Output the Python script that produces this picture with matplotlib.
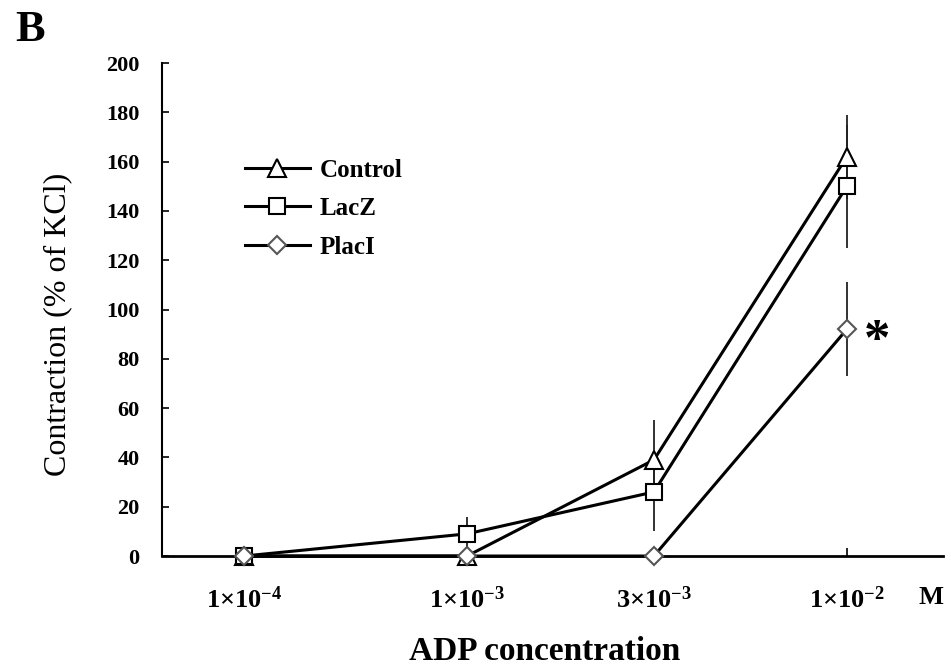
import matplotlib
matplotlib.use("Agg")
import matplotlib.pyplot as plt
from matplotlib.lines import Line2D

categories = ["1×10$^{-4}$", "1×10$^{-3}$", "3×10$^{-3}$", "1×10$^{-2}$"]
control = [0, 0, 39, 162]
control_err = [0, 0, 16, 17]
lacz = [0, 9, 26, 150]
lacz_err = [0, 7, 16, 25]
placi = [0, 0, 0, 92]
placi_err = [0, 0, 0, 19]
yticks = [0, 20, 40, 60, 80, 100, 120, 140, 160, 180, 200]

xpos = [0, 1.11, 2.04, 3]

plt.rcParams['font.family'] = ['Liberation Serif', 'DejaVu Serif']
plt.rcParams['mathtext.fontset'] = 'custom'
plt.rcParams['mathtext.rm'] = 'Liberation Serif:bold'
plt.rcParams['mathtext.it'] = 'Liberation Serif:bold'
plt.rcParams['mathtext.bf'] = 'Liberation Serif:bold'

fig = plt.figure(figsize=(9.51, 6.70), dpi=100)
ax = fig.add_axes([0.1703, 0.1701, 0.8212, 0.7358])

lw = 2.2
series = [
    ("Control", control, control_err, "^", "black", 13),
    ("LacZ", lacz, lacz_err, "s", "black", 12),
    ("PlacI", placi, placi_err, "D", "#555555", 9.5),
]
handles = []
for name, vals, err, mk, ec, ms in series:
    ax.errorbar(xpos, vals, yerr=err, color="black", lw=lw, elinewidth=1.3,
                ecolor="#222222", capsize=0, marker=mk, markersize=ms,
                markerfacecolor="white", markeredgecolor=ec, markeredgewidth=1.5,
                zorder=3, clip_on=False)
    handles.append(Line2D([], [], color="black", lw=lw, marker=mk, markersize=ms,
                          markerfacecolor="white", markeredgecolor=ec,
                          markeredgewidth=1.5, label=name))

ax.set_xlim(-0.408, 3.478)
ax.set_ylim(0, 200)
ax.set_yticks(yticks)
ax.set_yticklabels([str(v) for v in yticks], fontsize=16, fontweight="bold")
ax.set_xticks(xpos)
ax.set_xticklabels(categories, fontsize=19, fontweight="bold")
ax.tick_params(axis="y", direction="in", length=5, width=1.2, pad=16)
ax.tick_params(axis="x", direction="in", length=6, width=1.2, pad=22)
for s in ["top", "right"]:
    ax.spines[s].set_visible(False)
ax.spines["left"].set_linewidth(1.5)
ax.spines["bottom"].set_linewidth(2)

ax.set_ylabel("Contraction (% of KCl)", fontsize=23)
ax.yaxis.set_label_coords(-0.115, 0.469)
ax.set_xlabel("ADP concentration", fontsize=24, fontweight="bold")
ax.xaxis.set_label_coords(0.49, -0.162)

fig.text(931/951, 1 - 597/670, "M", fontsize=19, fontweight="bold", ha="center", va="center")
ax.text(3.15, placi[3] - 5, "*", fontsize=38, fontweight="bold", ha="center", va="center")
fig.text(30/951, 1 - 30/670, "B", fontsize=32, fontweight="bold", ha="center", va="center")

leg = ax.legend(handles=handles, loc="upper left", bbox_to_anchor=(0.077, 0.852),
                frameon=False, handlelength=2.6, handletextpad=0.4, labelspacing=0.62,
                prop={"family": "Liberation Serif", "weight": "bold", "size": 18})

fig.savefig("out.png", dpi=100)
